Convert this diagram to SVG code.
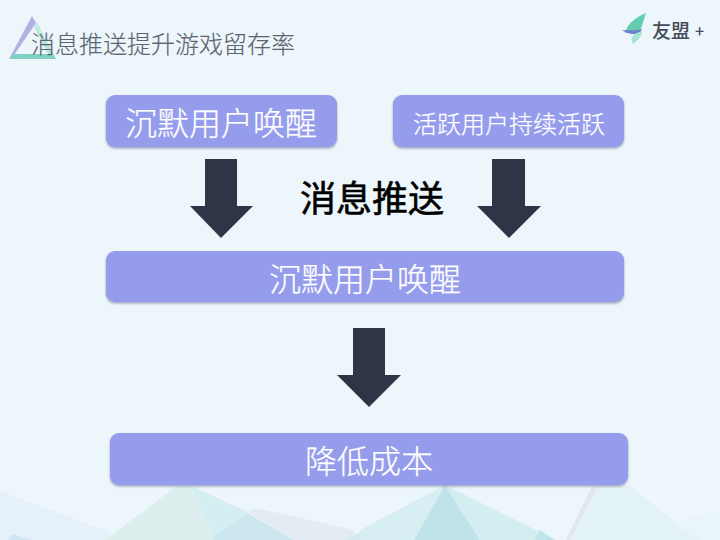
<svg xmlns="http://www.w3.org/2000/svg" width="720" height="540" viewBox="0 0 720 540">
<defs>
<filter id="sh" x="-5%" y="-20%" width="110%" height="140%"><feDropShadow dx="0" dy="1.5" stdDeviation="1" flood-color="#5a5f80" flood-opacity="0.55"/></filter>
<linearGradient id="gr" x1="0" y1="1" x2="0.6" y2="0"><stop offset="0" stop-color="#8fdccb"/><stop offset="1" stop-color="#c8efe3"/></linearGradient>
</defs>
<style>
text{font-family:"Noto Sans CJK SC","Noto Sans",sans-serif;text-anchor:middle}
.box{fill:#959ceb;filter:url(#sh)}
.lbl{fill:#fff;font-weight:300;stroke:#fff;stroke-width:0.25}
.arr{fill:#2e3547}
</style>
<rect width="720" height="540" fill="#edf6fb"/>
<g id="background-shapes">
<polygon points="0,491 112,533 105,540 0,540" fill="#e5f0fa"/>
<polygon points="12,534 32,540 8,540" fill="#cfe7f2"/>
<polygon points="105,540 177,486 191,486 215,540" fill="#dcefee"/>
<polygon points="191,486 248,512 215,537 213,536" fill="#d5eef2"/>
<polygon points="213,537 248,513 294,540 213,540" fill="#cde7ee"/>
<polygon points="248,512 256,508 354,530 358,540 294,540" fill="#e4ebf2"/>
<polygon points="345,540 360,532 360,540" fill="#d3ebf0"/>
<polygon points="360,530 445,485 414,540 360,540" fill="#d7eff3"/>
<polygon points="445,485 414,540 480,540" fill="#bfe3e9"/>
<polygon points="445,485 540,532 555,540 480,540" fill="#d4edf1"/>
<polygon points="540,530 555,540 535,540" fill="#bfe6ea"/>
<polygon points="592,486 566,540 580,540 598,486" fill="#e3e6f0"/>
<polygon points="598,486 630,486 700,540 570,540" fill="#e3f2f5"/>
<polygon points="630,486 720,486 720,510 670,522 700,540" fill="#f0f6fd"/>
<polygon points="670,522 720,510 720,540 700,540" fill="#eaf5fb"/>
</g>
<g id="title">
<polygon points="37,22 56,59 10,59 13,54 48,54 34,27" fill="url(#gr)"/>
<polygon points="32,16 36,23 14,55 9,59" fill="#aeb3e3"/>
<polygon points="9,59 56,59 53,54 14,54" fill="#7fd0c4"/>
<text x="163" y="53" font-size="24" fill="#5b6470" font-weight="300" stroke="#5b6470" stroke-width="0.15">消息推送提升游戏留存率</text>
</g>
<g id="logo">
<path d="M646,13C637,17 628,22 625,33L640,30C643,25 644,18 646,13Z" fill="#63cdb0"/>
<path d="M622,30C629,30 636,31 642,29C640,35 630,36 622,30Z" fill="#6d80cc"/>
<path d="M633,44C630,38 632,34 642,31C642,36 638,40 633,44Z" fill="#a5e6d3"/>
<text x="671" y="38" font-size="19" font-weight="500" fill="#444c5c">友盟</text>
<text x="699.5" y="37" font-size="16" font-weight="500" fill="#444c5c">+</text>
</g>
<g id="connectors">
<polygon class="arr" points="205,159 237,159 237,206 253,206 221,238 190,206 205,206"/>
<polygon class="arr" points="492,159 525,159 525,206 541,206 509,238 477,206 492,206"/>
<polygon class="arr" points="353,328 385,328 385,375 401,375 369,407 337,375 353,375"/>
</g>
<g id="node-1"><rect class="box" x="106" y="95" width="231" height="52" rx="9"/><text class="lbl" x="221" y="135" font-size="32">沉默用户唤醒</text></g>
<g id="node-2"><rect class="box" x="393" y="95" width="231" height="52" rx="9"/><text class="lbl" x="509" y="133" font-size="24">活跃用户持续活跃</text></g>
<g id="node-3"><text x="372" y="212" font-size="36" font-weight="400" fill="#000" stroke="#000" stroke-width="0.6">消息推送</text></g>
<g id="node-4"><rect class="box" x="106" y="251" width="518" height="51" rx="9"/><text class="lbl" x="365" y="291" font-size="32">沉默用户唤醒</text></g>
<g id="node-5"><rect class="box" x="110" y="433" width="518" height="52" rx="9"/><text class="lbl" x="369" y="473" font-size="32">降低成本</text></g>
</svg>
